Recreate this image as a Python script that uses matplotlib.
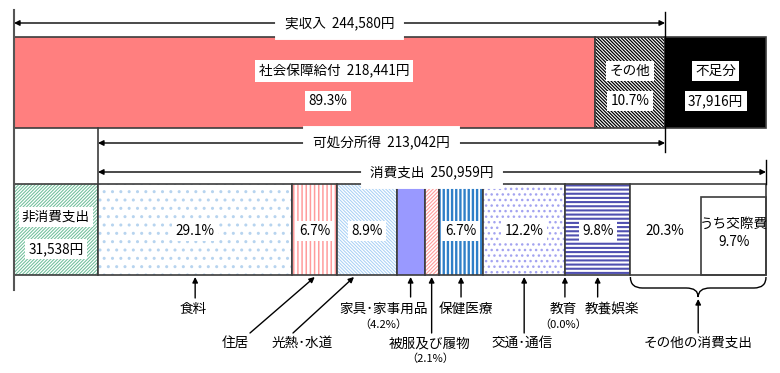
import matplotlib.pyplot as plt
from matplotlib.patches import Rectangle, PathPatch
from matplotlib.path import Path

plt.rcParams['font.family'] = ['Noto Sans CJK JP', 'DejaVu Sans']

# 収入側 (円)
income_labels = ['社会保障給付', 'その他', '不足分']
income_values = [218441, 26139, 37916]
income_pct = [89.3, 10.7]
jisshunyu = 244580
kashobun = 213042

# 支出側 (円, %)
nonconsumption = 31538
consumption_total = 250959
cons_labels = ['食料', '住居', '光熱･水道', '家具･家事用品', '被服及び履物',
               '保健医療', '交通･通信', '教育', '教養娯楽', 'その他の消費支出']
cons_pct = [29.1, 6.7, 8.9, 4.2, 2.1, 6.7, 12.2, 0.0, 9.8, 20.3]
kousaihi_pct = 9.7

total = sum(income_values)
k = total / 752.0          # yen per pixel
def px(x):                 # pixel layout position -> yen axis
    return (x - 14) * k

fig = plt.figure(figsize=(7.8, 3.73), dpi=100)
ax = fig.add_axes([0, 0, 1, 1])
ax.set_xlim(px(0), px(780))
ax.set_ylim(373, 0)
ax.axis('off')

EDGE = '#3c3c3c'
FS = 9.8
white_box = dict(boxstyle='square,pad=0.25', fc='white', ec='none')


def block(x0, w, y0, h, face, hatch=None, hcolor=None, hlw=1.0):
    if hatch:
        with plt.rc_context({'hatch.linewidth': hlw}):
            p = Rectangle((x0, y0), w, h, facecolor=face, edgecolor=hcolor,
                          hatch=hatch, lw=0)
            if hasattr(p, 'set_hatch_linewidth'):
                p.set_hatch_linewidth(hlw)
            ax.add_patch(p)
    else:
        ax.add_patch(Rectangle((x0, y0), w, h, facecolor=face, lw=0))
    ax.add_patch(Rectangle((x0, y0), w, h, fill=False, edgecolor=EDGE, lw=1.2))


def arrow(x0, y0, x1, y1, style='-|>'):
    ax.annotate('', xy=(x1, y1), xytext=(x0, y0),
                arrowprops=dict(arrowstyle=style, color='black', lw=1.0,
                                mutation_scale=8, shrinkA=0, shrinkB=0))


# ---- top bar (income) ----
top_y, top_h = 37, 91
top_styles = [
    dict(face='#ff7f7f'),
    dict(face='white', hatch='\\' * 10, hcolor='black', hlw=0.9),
    dict(face='black'),
]
x = 0
starts = []
for v, st in zip(income_values, top_styles):
    starts.append(x)
    block(x, v, top_y, top_h, **st)
    x += v

ax.text(px(334), 71, f'{income_labels[0]}  {income_values[0]:,}円', ha='center', va='center',
        fontsize=FS, bbox=white_box)
ax.text(px(328), 101, f'{income_pct[0]}%', ha='center', va='center', fontsize=FS, bbox=white_box)
c1 = starts[1] + income_values[1] / 2
ax.text(c1, 71, income_labels[1], ha='center', va='center', fontsize=FS, bbox=white_box)
ax.text(c1, 101, f'{income_pct[1]}%', ha='center', va='center', fontsize=FS, bbox=white_box)
c2 = starts[2] + income_values[2] / 2
ax.text(c2, 71, income_labels[2], ha='center', va='center', fontsize=FS, bbox=white_box)
ax.text(c2, 101, f'{income_values[2]:,}円', ha='center', va='center', fontsize=FS, bbox=white_box)

# ---- bottom bar (expenditure) ----
bot_y, bot_h = 184, 91
block(0, nonconsumption, bot_y, bot_h, 'white', '/' * 10, '#6fbf9a', 0.75)
ax.text(nonconsumption / 2, 217, '非消費支出', ha='center', va='center', fontsize=FS, bbox=white_box)
ax.text(nonconsumption / 2, 249, f'{nonconsumption:,}円', ha='center', va='center', fontsize=FS,
        bbox=white_box)

cons_styles = [
    dict(face='white', hatch='..', hcolor='#b7d4ef'),
    dict(face='white', hatch='||||', hcolor='#ff9c9c', hlw=1.1),
    dict(face='white', hatch='\\' * 10, hcolor='#a9d0f5', hlw=0.75),
    dict(face='#9999ff'),
    dict(face='white', hatch='/' * 9, hcolor='#ff9c9c', hlw=0.8),
    dict(face='white', hatch='||||', hcolor='#2f7fc8', hlw=1.7),
    dict(face='white', hatch='...', hcolor='#a3a3f0'),
    dict(face='white'),
    dict(face='white', hatch='----', hcolor='#5050b0', hlw=1.5),
    dict(face='white'),
]
cons_vals = [p / 100 * consumption_total for p in cons_pct]
cons_start = []
x = nonconsumption
for v, st in zip(cons_vals, cons_styles):
    cons_start.append(x)
    if v > 0:
        block(x, v, bot_y, bot_h, **st)
    x += v
cons_end = x
centers = [s + v / 2 for s, v in zip(cons_start, cons_vals)]

for i, p in enumerate(cons_pct):
    if p == 0 or i in (3, 4):
        continue
    cx = centers[i]
    if i == 9:
        cx = (cons_start[9] + px(700)) / 2
    ax.text(cx, 231, f'{p}%', ha='center', va='center', fontsize=FS, bbox=white_box)

# うち交際費 box inside その他
ks = cons_end - kousaihi_pct / 100 * consumption_total
ax.add_patch(Rectangle((ks, 197), cons_end - ks, bot_y + bot_h - 197, fill=False,
                       edgecolor=EDGE, lw=1.2))
ax.text((ks + cons_end) / 2, 224, 'うち交際費', ha='center', va='center', fontsize=FS)
ax.text((ks + cons_end) / 2, 242, f'{kousaihi_pct}%', ha='center', va='center', fontsize=FS)

# ---- vertical guide lines ----
ax.plot([0, 0], [10, 290], color='#555555', lw=1.5)
ax.plot([jisshunyu, jisshunyu], [12, 152], color='black', lw=1.0)
ax.plot([nonconsumption, nonconsumption], [top_y + top_h, bot_y], color=EDGE, lw=1.2)
ax.plot([cons_end, cons_end], [160, bot_y], color='black', lw=1.0)

# ---- span arrows ----
spans = [
    (0, jisshunyu, 23, f'実収入  {jisshunyu:,}円'),
    (nonconsumption, jisshunyu, 143, f'可処分所得  {kashobun:,}円'),
    (nonconsumption, cons_end, 172, f'消費支出  {consumption_total:,}円'),
]
for a, b, y, lab in spans:
    arrow(a, y, b, y, '<|-|>')
    ax.text((a + b) / 2, y, lab, ha='center', va='center', fontsize=FS,
            bbox=dict(boxstyle='square,pad=0.2', fc='white', ec='white', lw=10))

# ---- category labels below ----
tip_y = 277
label_layout = {
    0: dict(tail=(193, 298), text=(193, 309)),
    1: dict(tail=(250, 333), text=(235, 343)),
    2: dict(tail=(293, 333), text=(302, 343), tip=354),
    3: dict(tail=(410, 297), text=(384, 309), sub=(383, 325)),
    4: dict(tail=(431, 333), text=(430, 343), sub=(430, 359)),
    5: dict(tail=(460, 297), text=(466, 309)),
    6: dict(tail=(523, 333), text=(522, 343)),
    7: dict(tail=(564, 297), text=(563, 309), sub=(563, 325)),
    8: dict(tail=(597, 297), text=(612, 309)),
}
for i, lay in label_layout.items():
    tx = px(lay['tip']) if 'tip' in lay else centers[i]
    tlx, tly = lay['tail']
    if i in (1, 2):
        tlx_d = px(tlx)
    else:
        tlx_d = tx
    arrow(tlx_d, tly, tx, tip_y)
    ax.text(px(lay['text'][0]), lay['text'][1], cons_labels[i], ha='center', va='center',
            fontsize=FS)
    if 'sub' in lay:
        ax.text(px(lay['sub'][0]), lay['sub'][1], f'（{cons_pct[i]}%）', ha='center',
                va='center', fontsize=8)

# brace under その他の消費支出
xl, xr = cons_start[9], cons_end
xc = (xl + xr) / 2
r = px(26) - px(14)
y0, ym, yt = 277, 288, 297
verts = [(xl, y0), (xl, ym), (xl + r, ym), (xc - r, ym), (xc, ym), (xc, yt),
         (xc, ym), (xc + r, ym), (xr - r, ym), (xr, ym), (xr, y0)]
codes = [Path.MOVETO, Path.CURVE3, Path.CURVE3, Path.LINETO, Path.CURVE3, Path.CURVE3,
         Path.CURVE3, Path.CURVE3, Path.LINETO, Path.CURVE3, Path.CURVE3]
ax.add_patch(PathPatch(Path(verts, codes), fill=False, edgecolor='black', lw=1.0))
arrow(xc, 333, xc, 299)
ax.text(xc, 343, cons_labels[9], ha='center', va='center', fontsize=FS)

fig.savefig('out.png', dpi=100)
